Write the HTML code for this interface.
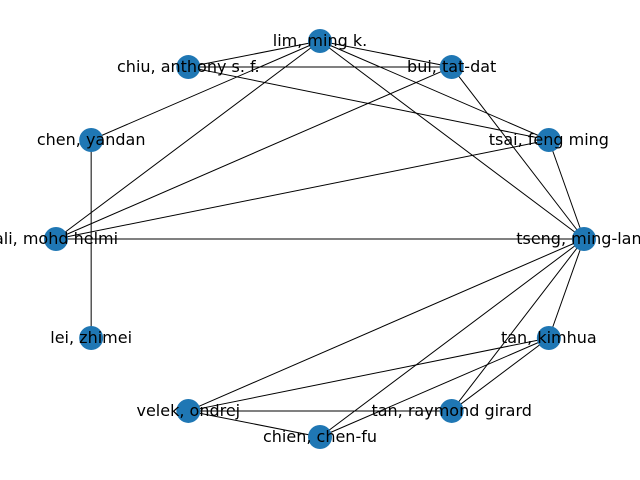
<!DOCTYPE html>
<html><head><meta charset="utf-8"><style>
html,body{margin:0;padding:0;background:#fff;}
svg{display:block;}
text{font-family:"DejaVu Sans","Liberation Sans",sans-serif;font-size:16px;fill:#000;}
</style></head><body>
<svg id="chart" width="640" height="480" xmlns="http://www.w3.org/2000/svg">
<g id="edges"></g>
<g id="nodes"></g>
<g id="labels"></g>
</svg>
<script>
const nodeNames = ["lim, ming k.","bui, tat-dat","chiu, anthony s. f.","chen, yandan","tsai, feng ming","ali, mohd helmi","tseng, ming-lang","lei, zhimei","tan, kimhua","velek, ondrej","tan, raymond girard","chien, chen-fu"];
const nodeX = [0.5, 0.706, 0.294, 0.142, 0.858, 0.087, 0.913, 0.142, 0.858, 0.294, 0.706, 0.5];
const nodeY = [0.922, 0.862, 0.862, 0.694, 0.694, 0.466, 0.466, 0.238, 0.238, 0.07, 0.07, 0.01];
const edgeFrom = [0,0,0,0,0,0,2,2,1,1,4,4,5,3,6,6,6,6,8,8,8,9,9];
const edgeTo   = [2,1,4,6,3,5,1,4,5,6,5,6,6,7,9,11,10,8,9,11,10,10,11];
function sx(v){return 56 + (v-0.087)/(0.913-0.087)*528;}
function sy(v){return 437 - (v-0.01)/(0.922-0.01)*396;}
const NS="http://www.w3.org/2000/svg";
const eg=document.getElementById('edges'), ng=document.getElementById('nodes'), lg=document.getElementById('labels');
for(let i=0;i<edgeFrom.length;i++){
  const a=edgeFrom[i], b=edgeTo[i];
  const l=document.createElementNS(NS,'line');
  l.setAttribute('x1',sx(nodeX[a]));l.setAttribute('y1',sy(nodeY[a]));
  l.setAttribute('x2',sx(nodeX[b]));l.setAttribute('y2',sy(nodeY[b]));
  l.setAttribute('stroke','#000');l.setAttribute('stroke-width','1');
  
  
  eg.appendChild(l);
}
for(let i=0;i<nodeNames.length;i++){
  const c=document.createElementNS(NS,'circle');
  c.setAttribute('cx',sx(nodeX[i]));c.setAttribute('cy',sy(nodeY[i]));
  c.setAttribute('r','12');c.setAttribute('fill','#1f77b4');
  
  
  ng.appendChild(c);
  const t=document.createElementNS(NS,'text');
  t.setAttribute('x',sx(nodeX[i]));t.setAttribute('y',sy(nodeY[i])+5);
  t.setAttribute('text-anchor','middle');
  t.textContent=nodeNames[i];
  
  
  lg.appendChild(t);
}
</script>
</body></html>
